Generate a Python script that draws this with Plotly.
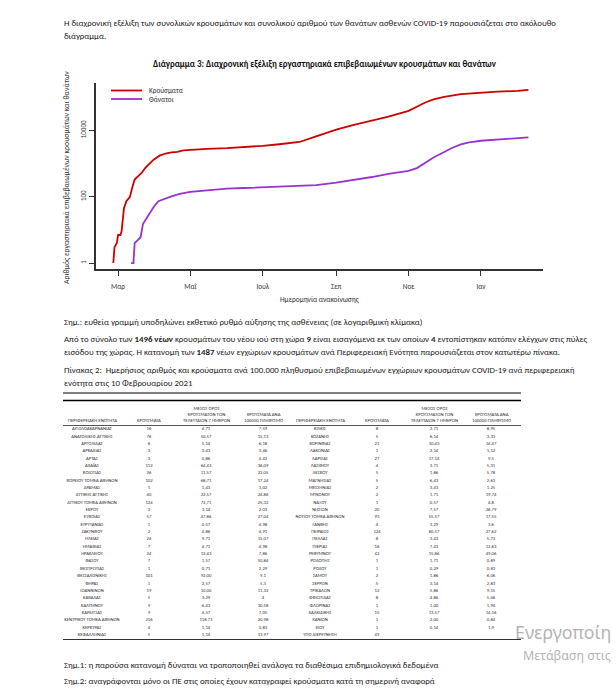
import plotly.graph_objects as go

# ---------------- data: chart ----------------
case_dates = ["2020-02-26", "2020-02-27", "2020-02-29", "2020-03-01", "2020-03-03", "2020-03-04",
              "2020-03-06", "2020-03-08", "2020-03-10", "2020-03-11", "2020-03-13", "2020-03-15",
              "2020-03-18", "2020-03-21", "2020-03-24", "2020-03-27", "2020-03-31", "2020-04-05",
              "2020-04-10", "2020-04-15", "2020-04-20", "2020-04-25", "2020-05-01", "2020-05-15",
              "2020-06-01", "2020-06-15", "2020-07-01", "2020-07-15", "2020-08-01", "2020-08-15",
              "2020-09-01", "2020-09-15", "2020-10-01", "2020-10-15", "2020-11-01", "2020-11-08",
              "2020-11-15", "2020-11-22", "2020-12-01", "2020-12-15", "2021-01-01", "2021-01-15",
              "2021-02-01", "2021-02-10"]
case_values = [1, 3, 4, 7, 7, 9,
               45, 73, 89, 99, 190, 331,
               418, 530, 743, 966, 1314, 1735,
               2011, 2192, 2245, 2506, 2591, 2770,
               2918, 3121, 3432, 3826, 4477, 6632,
               10524, 14400, 19947, 25902, 38888, 51155,
               69675, 86000, 103034, 124000, 140099, 147700,
               155000, 166000]

death_dates = ["2020-03-12", "2020-03-14", "2020-03-15", "2020-03-18", "2020-03-20", "2020-03-22",
               "2020-03-25", "2020-03-28", "2020-03-31", "2020-04-04", "2020-04-08", "2020-04-15",
               "2020-04-22", "2020-05-01", "2020-05-15", "2020-06-01", "2020-06-15", "2020-07-01",
               "2020-07-15", "2020-08-01", "2020-08-15", "2020-09-01", "2020-09-15", "2020-10-01",
               "2020-10-15", "2020-11-01", "2020-11-08", "2020-11-15", "2020-11-22", "2020-12-01",
               "2020-12-08", "2020-12-15", "2020-12-22", "2021-01-01", "2021-01-15", "2021-02-01",
               "2021-02-10"]
death_values = [1, 1, 4, 5, 6, 15,
                22, 32, 49, 73, 83, 102,
                121, 140, 155, 175, 183, 192,
                194, 206, 223, 266, 314, 393,
                488, 603, 731, 1035, 1527, 2223,
                3003, 3772, 4340, 4881, 5363, 5851,
                6147]

x_tick_dates = ["2020-03-01", "2020-05-01", "2020-07-01", "2020-09-01", "2020-11-01", "2021-01-01"]
x_tick_labels = ["Μαρ", "Μαΐ", "Ιουλ", "Σεπ", "Νοε", "Ιαν"]
y_tick_values = [1, 100, 10000]
y_tick_labels = ["1", "100", "10000"]
series_names = ["Κρούσματα", "Θάνατοι"]

# ---------------- data: table ----------------
left_regions = ["ΑΙΤΩΛΟΑΚΑΡΝΑΝΙΑΣ", "ΑΝΑΤΟΛΙΚΗΣ ΑΤΤΙΚΗΣ", "ΑΡΓΟΛΙΔΑΣ", "ΑΡΚΑΔΙΑΣ", "ΑΡΤΑΣ", "ΑΧΑΪΑΣ",
                "ΒΟΙΩΤΙΑΣ", "ΒΟΡΕΙΟΥ ΤΟΜΕΑ ΑΘΗΝΩΝ", "ΔΡΑΜΑΣ", "ΔΥΤΙΚΗΣ ΑΤΤΙΚΗΣ", "ΔΥΤΙΚΟΥ ΤΟΜΕΑ ΑΘΗΝΩΝ",
                "ΕΒΡΟΥ", "ΕΥΒΟΙΑΣ", "ΕΥΡΥΤΑΝΙΑΣ", "ΖΑΚΥΝΘΟΥ", "ΗΛΕΙΑΣ", "ΗΜΑΘΙΑΣ", "ΗΡΑΚΛΕΙΟΥ",
                "ΘΑΣΟΥ", "ΘΕΣΠΡΩΤΙΑΣ", "ΘΕΣΣΑΛΟΝΙΚΗΣ", "ΘΗΡΑΣ", "ΙΩΑΝΝΙΝΩΝ", "ΚΑΒΑΛΑΣ", "ΚΑΛΥΜΝΟΥ",
                "ΚΑΡΔΙΤΣΑΣ", "ΚΕΝΤΡΙΚΟΥ ΤΟΜΕΑ ΑΘΗΝΩΝ", "ΚΕΡΚΥΡΑΣ", "ΚΕΦΑΛΛΗΝΙΑΣ"]
left_cases = ["16", "76", "6", "3", "3", "112", "26", "102", "1", "40", "124", "3", "57", "1", "2",
              "24", "7", "24", "7", "1", "101", "1", "19", "5", "9", "9", "216", "4", "5"]
left_mean7 = ["4,71", "50,57", "5,14", "3,43", "0,86", "64,43", "11,57", "68,71", "1,43", "22,57",
              "72,71", "3,14", "47,86", "0,57", "4,86", "9,71", "4,71", "12,43", "1,57", "0,71",
              "92,00", "2,57", "10,00", "3,29", "6,43", "4,57", "118,71", "1,14", "1,14"]
left_per100k = ["7,59", "15,13", "6,18", "3,46", "4,42", "36,09", "22,05", "17,24", "1,02", "24,86",
                "25,32", "2,03", "27,04", "4,98", "4,91", "15,07", "4,98", "7,86", "50,84", "2,29",
                "9,1", "5,3", "11,32", "4", "30,58", "7,05", "20,98", "3,83", "13,97"]

right_regions = ["ΚΙΛΚΙΣ", "ΚΟΖΑΝΗΣ", "ΚΟΡΙΝΘΙΑΣ", "ΛΑΚΩΝΙΑΣ", "ΛΑΡΙΣΑΣ", "ΛΑΣΙΘΙΟΥ", "ΛΕΣΒΟΥ",
                 "ΜΑΓΝΗΣΙΑΣ", "ΜΕΣΣΗΝΙΑΣ", "ΜΥΚΟΝΟΥ", "ΝΑΞΟΥ", "ΝΗΣΙΩΝ", "ΝΟΤΙΟΥ ΤΟΜΕΑ ΑΘΗΝΩΝ", "ΞΑΝΘΗΣ",
                 "ΠΕΙΡΑΙΩΣ", "ΠΕΛΛΑΣ", "ΠΙΕΡΙΑΣ", "ΡΕΘΥΜΝΟΥ", "ΡΟΔΟΠΗΣ", "ΡΟΔΟΥ", "ΣΑΜΟΥ", "ΣΕΡΡΩΝ",
                 "ΤΡΙΚΑΛΩΝ", "ΦΘΙΩΤΙΔΑΣ", "ΦΛΩΡΙΝΑΣ", "ΧΑΛΚΙΔΙΚΗΣ", "ΧΑΝΙΩΝ", "ΧΙΟΥ", "ΥΠΟ ΔΙΕΡΕΥΝΗΣΗ"]
right_cases = ["8", "5", "21", "1", "27", "4", "5", "5", "2", "2", "1", "20", "93", "4", "124", "8",
               "16", "42", "1", "1", "2", "5", "12", "8", "1", "15", "1", "1", "49"]
right_mean7 = ["2,71", "6,14", "10,43", "2,14", "17,14", "3,71", "1,86", "6,43", "3,43", "1,71",
               "0,57", "7,57", "55,57", "3,29", "60,57", "3,43", "7,43", "15,86", "1,71", "0,29",
               "1,86", "3,14", "5,86", "4,86", "1,00", "13,57", "2,00", "0,14", ""]
right_per100k = ["8,95", "3,33", "14,47", "1,12", "9,5", "5,31", "5,78", "2,63", "1,25", "19,74",
                 "4,8", "26,79", "17,55", "3,6", "27,62", "5,73", "12,63", "49,06", "0,89", "0,83",
                 "6,06", "2,83", "9,15", "5,06", "1,94", "14,16", "0,64", "1,9", ""]

table_headers = ["ΠΕΡΙΦΕΡΕΙΑΚΗ ΕΝΟΤΗΤΑ", "ΚΡΟΥΣΜΑΤΑ",
                 "ΜΕΣΟΣ ΟΡΟΣ<br>ΚΡΟΥΣΜΑΤΩΝ ΤΩΝ<br>ΤΕΛΕΥΤΑΙΩΝ 7 ΗΜΕΡΩΝ",
                 "ΚΡΟΥΣΜΑΤΑ ΑΝΑ<br>100000 ΠΛΗΘΥΣΜΟ"]

# ---------------- page text ----------------
intro_1 = ("Η διαχρονική εξέλιξη των συνολικών κρουσμάτων και συνολικού αριθμού των θανάτων "
           "ασθενών COVID-19 παρουσιάζεται στο ακόλουθο")
intro_2 = "διάγραμμα."
chart_title = "Διάγραμμα 3: Διαχρονική εξέλιξη εργαστηριακά επιβεβαιωμένων κρουσμάτων και θανάτων"
y_title = "Αριθμός εργαστηριακά επιβεβαιωμένων κρουσμάτων και θανάτων"
x_title = "Ημερομηνία ανακοίνωσης"
note_0 = "Σημ.: ευθεία γραμμή υποδηλώνει εκθετικό ρυθμό αύξησης της ασθένειας (σε λογαριθμική κλίμακα)"
para_1 = ("Από το σύνολο των <b>1496 νέων</b> κρουσμάτων του νέου ιού στη χώρα <b>9</b> είναι εισαγόμενα "
          "εκ των οποίων <b>4</b> εντοπίστηκαν κατόπιν ελέγχων στις πύλες")
para_2 = ("εισόδου της χώρας. Η κατανομή των <b>1487</b> νέων εγχώριων κρουσμάτων ανά Περιφερειακή "
          "Ενότητα παρουσιάζεται στον κατωτέρω πίνακα.")
tab_1 = ("Πίνακας 2:  Ημερήσιος αριθμός και κρούσματα ανά 100.000 πληθυσμού επιβεβαιωμένων εγχώριων "
         "κρουσμάτων COVID-19 ανά περιφερειακή")
tab_2 = "ενότητα στις 10 Φεβρουαρίου 2021"
note_1 = "Σημ.1: η παρούσα κατανομή δύναται να τροποποιηθεί ανάλογα τα διαθέσιμα επιδημιολογικά δεδομένα"
note_2 = "Σημ.2: αναγράφονται μόνο οι ΠΕ στις οποίες έχουν καταγραφεί κρούσματα κατά τη σημερινή αναφορά"
wm_1 = "Ενεργοποίη"
wm_2 = "Μετάβαση στις"

# ---------------- styling ----------------
W, H = 616, 692
FONT = "Carlito, Liberation Sans Narrow, DejaVu Sans Condensed, Arial Narrow, sans-serif"
TXT = "#222222"
RED = "#CD0000"
PURPLE = "#9A32CD"
AX = "#333333"
BODY = 8.8


def px(x):
    return x / W


def py(y):
    return 1 - y / H


fig = go.Figure()

# chart series
fig.add_trace(go.Scatter(x=case_dates, y=case_values, mode="lines", name=series_names[0],
                         line=dict(color=RED, width=1.8), xaxis="x", yaxis="y", hoverinfo="skip"))
fig.add_trace(go.Scatter(x=death_dates, y=death_values, mode="lines", name=series_names[1],
                         line=dict(color=PURPLE, width=1.8), xaxis="x", yaxis="y", hoverinfo="skip"))

# table cells (text marks on hidden axes)
columns = [left_regions, left_cases, left_mean7, left_per100k,
           right_regions, right_cases, right_mean7, right_per100k]
for j, col in enumerate(columns):
    fig.add_trace(go.Scatter(x=[j] * len(col), y=list(range(len(col))), text=col, mode="text",
                             textposition="middle center",
                             textfont=dict(family=FONT, size=4.7, color="#333333"),
                             xaxis="x2", yaxis="y2", hoverinfo="skip", showlegend=False))

# table layout geometry (pixels)
col0_px, col_step_px = 92, 57
row0_px, row_step_px = 429, 7.35
x2_range = [-col0_px / col_step_px, (W - col0_px) / col_step_px]
y2_range = [(H - row0_px) / row_step_px, -row0_px / row_step_px]

annotations = []


def text(x, y, s, size=BODY, bold=False, xanchor="left", color=TXT, angle=0, family=FONT):
    if bold:
        s = "<b>" + s + "</b>"
    annotations.append(dict(x=px(x), y=py(y), xref="paper", yref="paper", text=s, showarrow=False,
                            xanchor=xanchor, yanchor="middle", textangle=angle,
                            font=dict(family=family, size=size, color=color)))


text(62, 23, intro_1)
text(62, 36, intro_2)
text(325, 64, chart_title, size=8.9, bold=True, xanchor="center", color="#111111")
text(66, 178, y_title, size=7.8, xanchor="center", angle=-90, color="#333333")
text(320, 299, x_title, size=7.4, xanchor="center", color="#333333")
text(62, 322, note_0)
text(62, 339, para_1)
text(62, 352, para_2)
text(62, 370, tab_1)
text(62, 383, tab_2)
text(62, 665, note_1)
text(62, 681, note_2)

# legend (drawn as in the original, no box)
legend_colors = [RED, PURPLE]
shapes = []
for i, (nm, c) in enumerate(zip(series_names, legend_colors)):
    yy = 90.5 + 8.5 * i
    shapes.append(dict(type="line", xref="paper", yref="paper", x0=px(111), x1=px(142),
                       y0=py(yy), y1=py(yy), line=dict(color=c, width=1.8)))
    text(147, yy, nm, size=7.2, color="#333333")

# table headers
for blk in range(2):
    for k, h in enumerate(table_headers):
        annotations.append(dict(x=blk * 4 + k, y=-0.52, xref="x2", yref="y2", text=h, showarrow=False,
                                xanchor="center", yanchor="bottom", align="center",
                                font=dict(family=FONT, size=4.8, color="#333333")))

# table rules
for yy, c, w in [(393, "#555555", 1.6), (400.5, "#000000", 1.6), (425.5, "#555555", 1.2), (639.5, "#333333", 1.2)]:
    shapes.append(dict(type="line", xref="paper", yref="paper", x0=px(63), x1=px(521),
                       y0=py(yy), y1=py(yy), line=dict(color=c, width=w)))

# watermark
annotations.append(dict(x=px(513), y=py(632), xref="paper", yref="paper", text=wm_1, showarrow=False,
                        xanchor="left", yanchor="middle",
                        font=dict(family="Noto Sans, Open Sans, sans-serif", size=17.8, color="#b4b4b4")))
annotations.append(dict(x=px(521), y=py(655), xref="paper", yref="paper", text=wm_2, showarrow=False,
                        xanchor="left", yanchor="middle",
                        font=dict(family="Noto Sans, Open Sans, sans-serif", size=12.4, color="#b4b4b4")))

fig.update_layout(
    width=W, height=H, autosize=False,
    margin=dict(l=0, r=0, t=0, b=0, pad=0),
    paper_bgcolor="white", plot_bgcolor="rgba(0,0,0,0)",
    showlegend=False,
    font=dict(family=FONT, color=TXT),
    xaxis=dict(type="date", domain=[px(96), px(543)], range=["2020-02-11 10:00", "2021-02-22 07:00"],
               tickvals=x_tick_dates, ticktext=x_tick_labels, ticks="outside", ticklen=5, tickwidth=1.2,
               tickcolor=AX, showline=True, linecolor=AX, linewidth=1.6, showgrid=False, zeroline=False,
               tickfont=dict(size=7.2, color="#333333"), ticklabelstandoff=5, anchor="y", fixedrange=True),
    yaxis=dict(type="log", domain=[py(269), py(83)], range=[-0.18, 5.43],
               tickvals=y_tick_values, ticktext=y_tick_labels, tickangle=-90, ticks="outside", ticklen=5,
               tickwidth=1.2, tickcolor=AX, showline=True, linecolor=AX, linewidth=1.6, showgrid=False,
               zeroline=False, tickfont=dict(size=7, color="#333333"), anchor="x", fixedrange=True),
    xaxis2=dict(domain=[0, 1], range=x2_range, visible=False, anchor="y2", fixedrange=True),
    yaxis2=dict(domain=[0, 1], range=y2_range, visible=False, anchor="x2", fixedrange=True),
    annotations=annotations,
    shapes=shapes,
)

fig.write_html("out.html", config={"displayModeBar": False},
               post_script="document.body.style.margin='0';document.body.style.overflow='hidden';")
